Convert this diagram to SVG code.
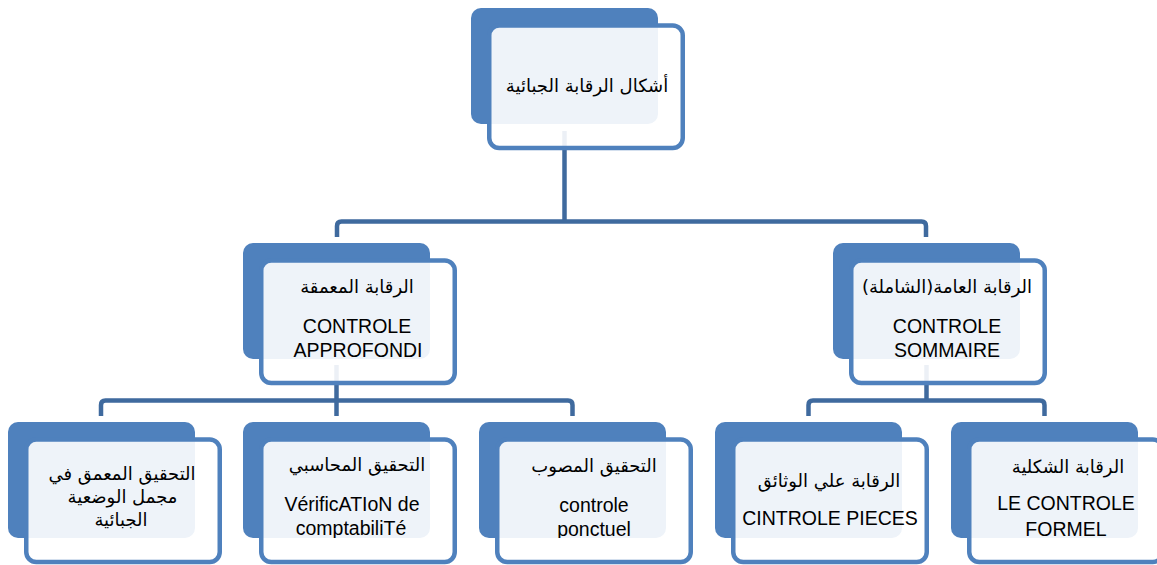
<svg xmlns="http://www.w3.org/2000/svg" width="1157" height="565" viewBox="0 0 1157 565">
<style>
.bk{fill:#4F81BD}
.fr{fill:#FFFFFF;fill-opacity:0.9;stroke:#4F81BD;stroke-width:4.5}
.cn{fill:none;stroke:#3F6A9E;stroke-width:4.5;stroke-linejoin:round}
.ar{font-family:"DejaVu Sans",sans-serif;font-size:18px;fill:#000;text-anchor:middle}
.la{font-family:"Liberation Sans",sans-serif;font-size:19.5px;fill:#000;text-anchor:middle}
</style>
<defs>
<clipPath id="c0"><rect x="480" y="20" width="220" height="105"/></clipPath>
<clipPath id="c1"><rect x="250" y="255" width="220" height="104"/></clipPath>
<clipPath id="c2"><rect x="840" y="255" width="220" height="104"/></clipPath>
<clipPath id="c3"><rect x="0" y="430" width="240" height="108"/></clipPath>
<clipPath id="c4"><rect x="245" y="430" width="225" height="108"/></clipPath>
<clipPath id="c5"><rect x="485" y="430" width="225" height="108"/></clipPath>
<clipPath id="c6"><rect x="720" y="430" width="225" height="108"/></clipPath>
<clipPath id="c7"><rect x="955" y="430" width="202" height="108"/></clipPath>
</defs>
<rect width="1157" height="565" fill="#FFFFFF"/>
<g id="connectors">
<path class="cn" d="M564.5,131 V221.5"/>
<path class="cn" d="M337,237 V226 Q337,221.5 341.5,221.5 H921.5 Q926,221.5 926,226 V237"/>
<path class="cn" d="M336.5,365 V400.5"/>
<path class="cn" d="M101,416 V405 Q101,400.5 105.5,400.5 H568 Q572.5,400.5 572.5,405 V416"/>
<path class="cn" d="M336.5,400.5 V416"/>
<path class="cn" d="M926.5,365 V400.5"/>
<path class="cn" d="M808.5,416 V405 Q808.5,400.5 813,400.5 H1040 Q1044.5,400.5 1044.5,405 V416"/>
</g>
<g id="node-top">
<rect class="bk" x="471" y="8" width="187" height="116" rx="10"/>
<rect class="fr" x="489.25" y="25.5" width="193.5" height="122.5" rx="10"/>
<g clip-path="url(#c0)"><text class="ar" direction="rtl" x="587" y="92">أشكال الرقابة الجبائية</text></g>
</g>
<g id="node-approfondi">
<rect class="bk" x="243" y="243" width="187" height="116" rx="10"/>
<rect class="fr" x="261.25" y="260.5" width="193.5" height="122.5" rx="10"/>
<g clip-path="url(#c1)">
<text class="ar" direction="rtl" x="357" y="293">الرقابة المعمقة</text>
<text class="la" x="357" y="333">CONTROLE</text>
<text class="la" x="358" y="357">APPROFONDI</text>
</g>
</g>
<g id="node-sommaire">
<rect class="bk" x="833" y="243" width="187" height="116" rx="10"/>
<rect class="fr" x="851.25" y="260.5" width="193.5" height="122.5" rx="10"/>
<g clip-path="url(#c2)">
<text class="ar" direction="rtl" x="947" y="293">الرقابة العامة(الشاملة)</text>
<text class="la" x="947" y="333">CONTROLE</text>
<text class="la" x="947" y="357">SOMMAIRE</text>
</g>
</g>
<g id="node-situation">
<rect class="bk" x="8" y="422" width="187" height="116" rx="10"/>
<rect class="fr" x="26.25" y="439.5" width="193.5" height="122.5" rx="10"/>
<g clip-path="url(#c3)">
<text class="ar" direction="rtl" x="122" y="480">التحقيق المعمق في</text>
<text class="ar" direction="rtl" x="122.5" y="503">مجمل الوضعية</text>
<text class="ar" direction="rtl" x="121" y="526">الجبائية</text>
</g>
</g>
<g id="node-comptabilite">
<rect class="bk" x="243" y="422" width="187" height="116" rx="10"/>
<rect class="fr" x="261.25" y="439.5" width="193.5" height="122.5" rx="10"/>
<g clip-path="url(#c4)">
<text class="ar" direction="rtl" x="357" y="471">التحقيق المحاسبي</text>
<text class="la" x="352" y="511">VérificATIoN de</text>
<text class="la" x="351" y="535">comptabiliTé</text>
</g>
</g>
<g id="node-ponctuel">
<rect class="bk" x="479" y="422" width="187" height="116" rx="10"/>
<rect class="fr" x="497.25" y="439.5" width="193.5" height="122.5" rx="10"/>
<g clip-path="url(#c5)">
<text class="ar" direction="rtl" x="594" y="472">التحقيق المصوب</text>
<text class="la" x="594" y="512">controle</text>
<text class="la" x="594" y="536">ponctuel</text>
</g>
</g>
<g id="node-pieces">
<rect class="bk" x="715" y="422" width="187" height="116" rx="10"/>
<rect class="fr" x="733.25" y="439.5" width="193.5" height="122.5" rx="10"/>
<g clip-path="url(#c6)">
<text class="ar" direction="rtl" x="829" y="487">الرقابة علي الوثائق</text>
<text class="la" x="830" y="525">CINTROLE PIECES</text>
</g>
</g>
<g id="node-formel">
<rect class="bk" x="951" y="422" width="187" height="116" rx="10"/>
<rect class="fr" x="969.25" y="439.5" width="193.5" height="122.5" rx="10"/>
<g clip-path="url(#c7)">
<text class="ar" direction="rtl" x="1068" y="473">الرقابة الشكلية</text>
<text class="la" x="1066" y="510">LE CONTROLE</text>
<text class="la" x="1066" y="536">FORMEL</text>
</g>
</g>
</svg>
